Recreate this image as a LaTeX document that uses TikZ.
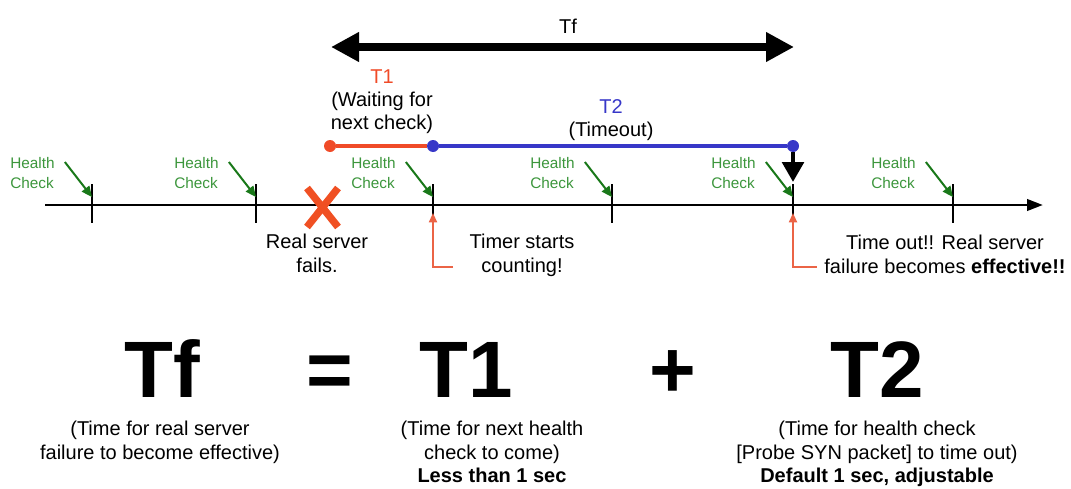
\documentclass[tikz,border=0pt]{standalone}
\usepackage{fontspec}
\setmainfont{Liberation Sans}
\usetikzlibrary{arrows.meta,positioning}
\definecolor{hcgreen}{RGB}{60,150,60}
\definecolor{hcdark}{RGB}{25,120,25}
\definecolor{tonered}{RGB}{240,75,40}
\definecolor{ttwoblue}{RGB}{55,55,200}
\definecolor{failred}{RGB}{240,80,35}
\definecolor{pointred}{RGB}{235,100,70}

\begin{document}
\begin{tikzpicture}
		[x=0.75pt,y=-0.75pt,
			txt/.style={font=\fontsize{15}{17.5}\selectfont, align=center, inner sep=0pt},
			hc/.style={font=\fontsize{11.5}{15}\selectfont, text=hcgreen, align=left, inner sep=0pt},
			hcarrow/.style={draw=hcdark, line width=1.5pt, -{Triangle[length=8pt,width=7pt]}},
			pointer/.style={draw=pointred, line width=1.4pt, -{Triangle[length=7pt,width=6pt]}},
			big/.style={font=\bfseries\fontsize{60}{60}\selectfont, inner sep=0pt, anchor=base},
			dot/.style={circle, inner sep=0pt, minimum size=9pt}]
		\useasboundingbox (0,0) rectangle (1071,489);

		% time line with the health checks
		\coordinate (axstart) at (45,205);
		\coordinate (axend) at (1043,205);
		\draw[line width=2.2pt, -{Triangle[length=12pt,width=8.5pt]}] (axstart) -- (axend);
		\foreach \x [count=\i] in {92,256,433,612,793,953} {
				\coordinate (tick\i) at (\x,205);
				\coordinate (top\i) at (\x,197);
				\draw[line width=1.5pt] (\x,184) -- (\x,223);
				\node[hc, anchor=north west] (hc\i) at (\x-82,157) {Health\\Check};
				\draw[hcarrow] ([shift={(10,5)}]hc\i.north east) -- (top\i);
			}

		% server failure
		\draw[failred, line width=5.5pt] (307,188) -- (338,227) (338,188) -- (307,227);
		\node[txt, anchor=north] (fails) at (317,234) {Real server\\fails.};

		\coordinate (startfoot) at (453,267);
		\coordinate (startup) at (433,213);
		\draw[pointer] (startfoot) -| (startup);
		\node[txt, anchor=north] (timer) at (522,234) {Timer starts\\counting!};

		\coordinate (endfoot) at (817,267);
		\coordinate (endup) at (793,213);
		\draw[pointer] (endfoot) -| (endup);
		\node[txt, anchor=north] (timeout) at (945,235) {Time out!! Real server\\failure becomes \textbf{effective!!}};

		% T1 and T2 intervals
		\node[dot, fill=tonered] (t1start) at (330,146) {};
		\node[dot, fill=ttwoblue] (t1end) at (433,146) {};
		\node[dot, fill=ttwoblue] (t2end) at (793,146) {};
		\draw[tonered, line width=3.5pt] (t1start) -- (t1end);
		\draw[ttwoblue, line width=3.5pt] (t1end) -- (t2end);
		\coordinate (effect) at (793,182);
		\draw[line width=3.5pt, -{Triangle[length=15pt,width=16pt]}] (t2end) -- (effect);

		\node[txt, anchor=north] (t1lbl) at (382,69) {\textcolor{tonered}{T1}\\(Waiting for\\next check)};
		\node[txt, anchor=north] (t2lbl) at (611,99) {\textcolor{ttwoblue}{T2}\\(Timeout)};

		% Tf span
		\coordinate (tfleft) at (331,47);
		\coordinate (tfright) at (794,47);
		\draw[line width=6pt, {Triangle[length=21pt,width=21pt]}-{Triangle[length=21pt,width=21pt]}] (tfleft) -- (tfright);
		\node[txt, anchor=base] (tftop) at (568,33) {Tf};

		% Tf = T1 + T2
		\node[big] (tf) at (162,397) {Tf};
		\node[big] (eq) at (330,397) {=};
		\node[big] (t1) at (466,397) {T1};
		\node[big] (plus) at (673,397) {+};
		\node[big] (t2) at (877,397) {T2};

		\node[txt, anchor=north] (tfsub) at (160,421) {(Time for real server\\failure to become effective)};
		\node[txt, anchor=north] (t1sub) at (492,421) {(Time for next health\\check to come)\\\textbf{Less than 1 sec}};
		\node[txt, anchor=north] (t2sub) at (877,421) {(Time for health check\\{[}Probe SYN packet{]} to time out)\\\textbf{Default 1 sec, adjustable}};
	\end{tikzpicture}
\end{document}
